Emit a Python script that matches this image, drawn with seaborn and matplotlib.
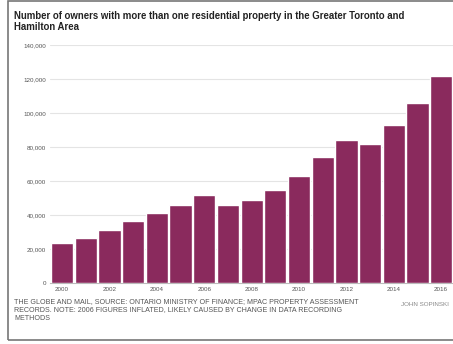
import matplotlib
matplotlib.use("Agg")
import matplotlib.pyplot as plt
import seaborn as sns
import pandas as pd
from matplotlib.patches import Rectangle

years = [2000, 2001, 2002, 2003, 2004, 2005, 2006, 2007, 2008,
         2009, 2010, 2011, 2012, 2013, 2014, 2015, 2016]
owners = [23500, 26600, 31300, 36300, 41200, 45700, 51900, 45700, 48600,
          54900, 63100, 74300, 83900, 81900, 92900, 105700, 121600]
y_ticks = [0, 20000, 40000, 60000, 80000, 100000, 120000, 140000]

title = ("Number of owners with more than one residential property in the Greater Toronto and\n"
         "Hamilton Area")
source = ("THE GLOBE AND MAIL, SOURCE: ONTARIO MINISTRY OF FINANCE; MPAC PROPERTY ASSESSMENT\n"
          "RECORDS. NOTE: 2006 FIGURES INFLATED, LIKELY CAUSED BY CHANGE IN DATA RECORDING\n"
          "METHODS")
credit = "JOHN SOPINSKI"

df = pd.DataFrame({"year": [str(y) for y in years], "owners": owners})

sns.set_style("white")
plt.rcParams['font.family'] = ['Liberation Sans', 'DejaVu Sans']

fig = plt.figure(figsize=(4.53, 3.44), dpi=100)
ax = fig.add_axes([0.111, 0.177, 0.889, 0.692])

sns.barplot(data=df, x="year", y="owners", color="#8a2a5d", width=0.94,
            saturation=1, ax=ax, zorder=3)

ax.set_ylim(0, 140000)
ax.set_yticks(y_ticks)
ax.set_yticklabels([f"{v:,}" for v in y_ticks], fontsize=4.5, color="#555555")
ax.yaxis.grid(True, color="#e4e4e4", linewidth=0.8, zorder=0)
ax.set_xlim(-0.5, len(years) - 0.5)
ax.set_xticks(range(0, len(years), 2))
ax.set_xticklabels([str(y) for y in years[::2]], fontsize=4.5, color="#555555")
ax.tick_params(axis="both", length=0, pad=3)
ax.set_xlabel("")
ax.set_ylabel("")
for s in ["top", "right", "left"]:
    ax.spines[s].set_visible(False)
ax.spines["bottom"].set_color("#bbbbbb")
ax.spines["bottom"].set_linewidth(0.8)

fig.text(0.031, 0.968, title, fontsize=6.9, fontweight="bold", color="#222222",
         va="top", ha="left", linespacing=1.15)
fig.text(0.031, 0.134, source, fontsize=5.15, color="#555555",
         va="top", ha="left", linespacing=1.3)
fig.text(0.99, 0.122, credit, fontsize=4.5, color="#888888",
         va="top", ha="right")

fig.patches.append(Rectangle((0.018, 0.012), 1.0, 0.984, transform=fig.transFigure,
                             fill=False, edgecolor="#777777", linewidth=1.2))

fig.savefig("out.png", dpi=100)
